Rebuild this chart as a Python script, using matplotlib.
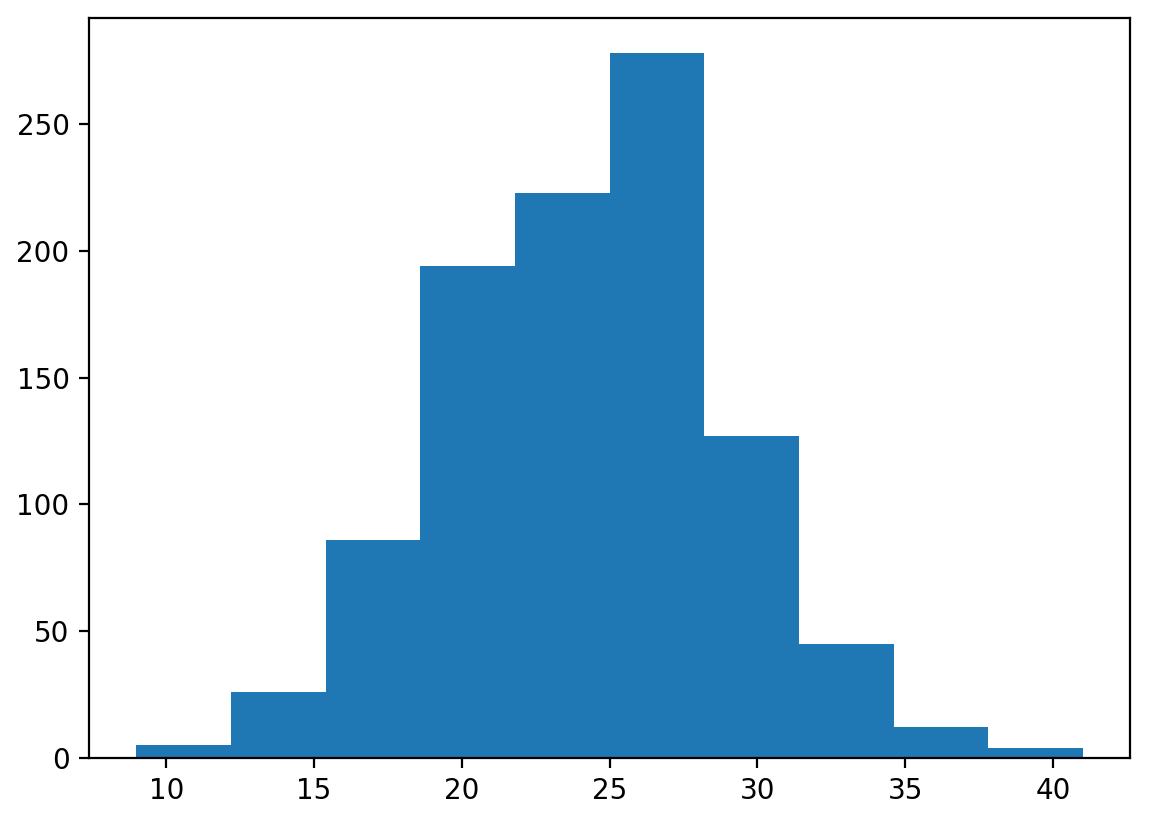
import matplotlib
matplotlib.use("Agg")
import matplotlib.pyplot as plt

# Bin edges and counts
bin_edges = [8.99, 12.19, 15.39, 18.60, 21.80, 25.00, 28.20, 31.41, 34.61, 37.81, 41.01]
counts = [5, 26, 86, 194, 223, 278, 127, 45, 12, 4]

fig = plt.figure(figsize=(5.745, 4.11), dpi=200)
ax = fig.add_axes([0.0775, 0.078, 0.906, 0.90])

# one weighted sample per bin so hist draws the same bars
ax.hist(bin_edges[:-1], bins=bin_edges, weights=counts, color="#1f77b4")

fig.savefig("out.png", dpi=200)
